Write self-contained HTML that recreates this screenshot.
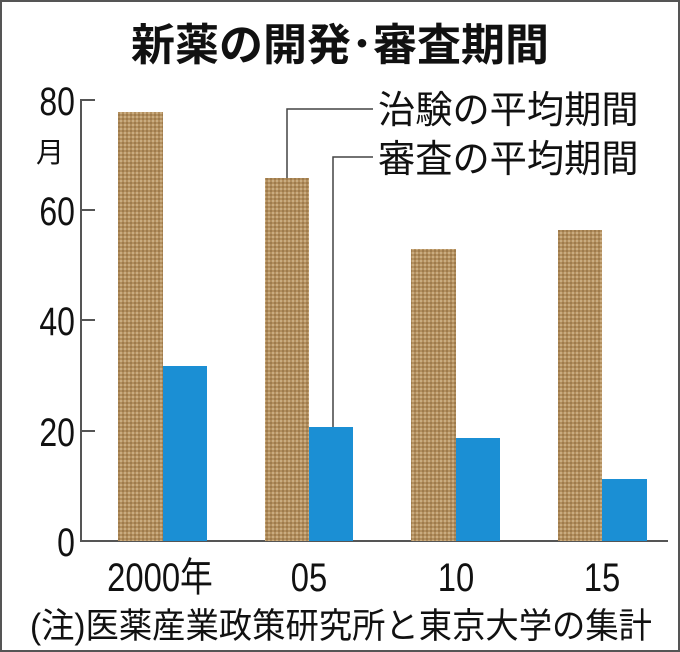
<!DOCTYPE html>
<html><head><meta charset="utf-8"><style>
html,body{margin:0;padding:0;background:#fff}
svg{display:block}
text{font-family:"Liberation Sans","Noto Sans CJK JP",sans-serif;fill:#111}
</style></head><body>
<svg width="680" height="652" viewBox="0 0 680 652">
<defs>
<pattern id="dots" width="4" height="4" patternUnits="userSpaceOnUse">
<rect width="4" height="4" fill="#b38f5e"/>
<circle cx="1" cy="1" r="0.9" fill="#d9c29a"/>
<circle cx="3" cy="3" r="0.9" fill="#8f6c40"/>
</pattern>
</defs>
<rect x="1" y="1" width="678" height="650" fill="#fff" stroke="#555" stroke-width="2"/>
<text x="340" y="60" font-size="44" font-weight="bold" text-anchor="middle" font-family="'Noto Sans CJK JP',sans-serif">新薬の開発･審査期間</text>
<g stroke="#555" stroke-width="2" fill="none">
<path d="M95 100 H81 V541 H668"/>
<path d="M81 210 H95 M81 320 H95 M81 431 H95"/>
</g>
<g font-size="40" text-anchor="end">
<text x="75" y="115" transform="translate(75 0) scale(0.8 1) translate(-75 0)">80</text>
<text x="75" y="225" transform="translate(75 0) scale(0.8 1) translate(-75 0)">60</text>
<text x="75" y="335" transform="translate(75 0) scale(0.8 1) translate(-75 0)">40</text>
<text x="75" y="446" transform="translate(75 0) scale(0.8 1) translate(-75 0)">20</text>
<text x="75" y="556" transform="translate(75 0) scale(0.8 1) translate(-75 0)">0</text>
</g>
<text x="36" y="162" font-size="28">月</text>
<rect x="118" y="112" width="45" height="429" fill="url(#dots)"/>
<rect x="163" y="366" width="44" height="175" fill="#1b8fd4"/>
<rect x="265" y="178" width="44" height="363" fill="url(#dots)"/>
<rect x="309" y="427" width="44" height="114" fill="#1b8fd4"/>
<rect x="411" y="249" width="45" height="292" fill="url(#dots)"/>
<rect x="456" y="438" width="44" height="103" fill="#1b8fd4"/>
<rect x="558" y="230" width="44" height="311" fill="url(#dots)"/>
<rect x="602" y="479" width="45" height="62" fill="#1b8fd4"/>
<g stroke="#444" stroke-width="1.5" fill="none">
<path d="M287 178 V109 H373"/>
<path d="M333 427 V157 H373"/>
</g>
<g font-size="38">
<text x="378" y="123" font-family="'Noto Sans CJK JP',sans-serif" transform="translate(378 0) scale(0.98 1) translate(-378 0)">治験の平均期間</text>
<text x="378" y="172" font-family="'Noto Sans CJK JP',sans-serif" transform="translate(378 0) scale(0.98 1) translate(-378 0)">審査の平均期間</text>
</g>
<g font-size="40" text-anchor="middle">
<text x="160" y="591" transform="translate(160 0) scale(0.82 1) translate(-160 0)">2000年</text>
<text x="309" y="591" transform="translate(309 0) scale(0.82 1) translate(-309 0)">05</text>
<text x="456" y="591" transform="translate(456 0) scale(0.82 1) translate(-456 0)">10</text>
<text x="602" y="591" transform="translate(602 0) scale(0.82 1) translate(-602 0)">15</text>
</g>
<text x="30" y="638" font-size="35" font-family="'Noto Sans CJK JP',sans-serif" textLength="622" lengthAdjust="spacingAndGlyphs">(注)医薬産業政策研究所と東京大学の集計</text>
</svg>
</body></html>
